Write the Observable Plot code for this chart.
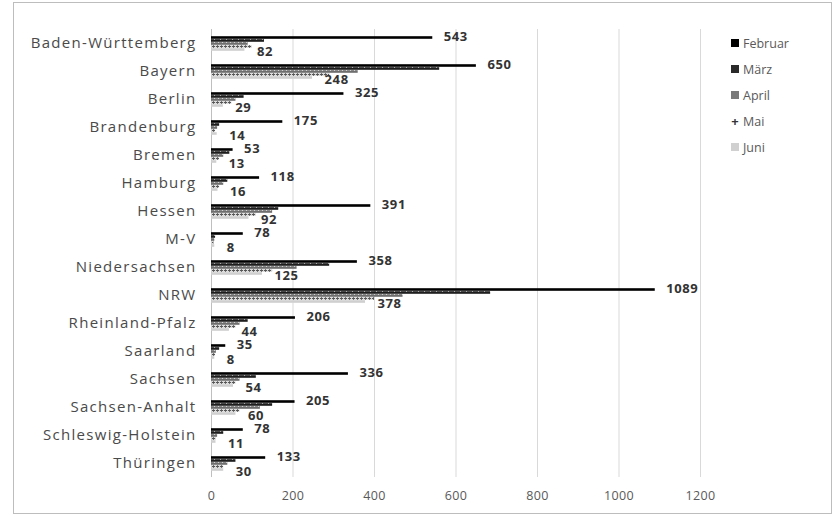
<!DOCTYPE html>
<html>
<head>
<meta charset="utf-8">
<script src="https://cdn.jsdelivr.net/npm/d3@7"></script>
<script src="https://cdn.jsdelivr.net/npm/@observablehq/plot@0.6"></script>
<style>
  html, body { margin: 0; padding: 0; background: #fff; }
  #chart { position: relative; width: 836px; height: 518px; font-family: "Open Sans", sans-serif; }
  #frame { position: absolute; left: 13px; top: 2px; width: 819px; height: 512px; border: 1px solid #bdbdbd; box-sizing: border-box; pointer-events: none; }
  #legend { position: absolute; left: 731px; top: 30px; font-size: 12.5px; color: #595959; }
  #legend .item { display: flex; align-items: center; height: 26px; }
  #legend .sw { width: 8px; height: 8px; margin-right: 4px; }
  #legend .plus { width: 8px; margin-right: 4px; font-size: 13px; line-height: 8px; color: #333; text-align: center; font-weight: bold; }
  #chart svg [aria-label^="fy-axis"] text { font-size: 15px; letter-spacing: 1.3px; fill: #4a4a4a; }
  #chart svg [aria-label^="x-axis"] text { font-size: 12.5px; letter-spacing: 0.3px; fill: #595959; }
  #chart svg .vlabel text { letter-spacing: 0.6px; }
</style>
</head>
<body>
<div id="chart"><div id="frame"></div></div>
<script>
// Bundesländer, top to bottom
const states = ["Baden-Württemberg", "Bayern", "Berlin", "Brandenburg", "Bremen", "Hamburg", "Hessen", "M-V",
  "Niedersachsen", "NRW", "Rheinland-Pfalz", "Saarland", "Sachsen", "Sachsen-Anhalt", "Schleswig-Holstein", "Thüringen"];
const months = ["Februar", "März", "April", "Mai", "Juni"];

// Monthly values per state
const februar = [543, 650, 325, 175, 53, 118, 391, 78, 358, 1089, 206, 35, 336, 205, 78, 133];
const maerz   = [130, 560, 80, 20, 45, 40, 165, 10, 290, 685, 90, 20, 110, 150, 30, 60];
const april   = [90, 360, 60, 15, 30, 30, 150, 8, 210, 470, 70, 12, 70, 120, 15, 40];
const mai     = [100, 290, 50, 10, 20, 20, 110, 6, 150, 400, 60, 10, 60, 70, 12, 30];
const juni    = [82, 248, 29, 14, 13, 16, 92, 8, 125, 378, 44, 8, 54, 60, 11, 30];

const xTicks = [0, 200, 400, 600, 800, 1000, 1200];

const series = [februar, maerz, april, mai, juni];
const rows = [];
states.forEach((s, i) => months.forEach((m, j) => rows.push({state: s, month: m, value: series[j][i]})));

const fills = {
  "Februar": "#000000",
  "März": "url(#p-maerz)",
  "April": "url(#p-april)",
  "Mai": "url(#p-mai)",
  "Juni": "#cfcfcf"
};

const byMonth = m => rows.filter(d => d.month === m);

const svg = Plot.plot({
  width: 836,
  height: 518,
  marginLeft: 211,
  marginRight: 136,
  marginTop: 24,
  marginBottom: 36,
  style: {fontFamily: "Open Sans, sans-serif", background: "transparent"},
  x: {domain: [0, 1200], ticks: xTicks, tickFormat: d => String(d), tickSize: 0, tickPadding: 14, label: null},
  y: {domain: months, axis: null, paddingInner: 0, paddingOuter: 1.5},
  fy: {domain: states, padding: 0, tickSize: 0, tickPadding: 15, label: null},
  facet: {data: rows, y: "state"},
  marks: [
    Plot.ruleX(xTicks.slice(1), {stroke: "#d9d9d9", strokeWidth: 1}),
    Plot.ruleX([0], {stroke: "#bfbfbf", strokeWidth: 1}),
    ...months.map(m => Plot.barX(byMonth(m), {x: "value", y: "month", fy: "state", fill: fills[m], insetTop: 0.2, insetBottom: 0.2})),
    Plot.text(byMonth("Februar"), {x: "value", y: "month", fy: "state", text: d => String(d.value),
      dx: 11, dy: -1, textAnchor: "start", fontSize: 13, fontWeight: "bold", fill: "#333", className: "vlabel"}),
    Plot.text(byMonth("Juni"), {x: "value", y: "month", fy: "state", text: d => String(d.value),
      dx: 12, dy: 2, textAnchor: "start", fontSize: 13, fontWeight: "bold", fill: "#333", className: "vlabel"})
  ]
});

// Fill patterns for the März, April and Mai bars
const defs = d3.select(svg).insert("defs", ":first-child");
const pm = defs.append("pattern").attr("id", "p-maerz").attr("patternUnits", "userSpaceOnUse").attr("width", 6).attr("height", 3);
pm.append("rect").attr("width", 6).attr("height", 3).attr("fill", "#1e1e1e");
pm.append("rect").attr("x", 4).attr("y", 1).attr("width", 1).attr("height", 1).attr("fill", "#9a9a9a");
const pa = defs.append("pattern").attr("id", "p-april").attr("patternUnits", "userSpaceOnUse").attr("width", 4).attr("height", 3);
pa.append("rect").attr("width", 4).attr("height", 3).attr("fill", "#6e6e6e");
pa.append("rect").attr("x", 2).attr("y", 1).attr("width", 1).attr("height", 1).attr("fill", "#c8c8c8");
const pmai = defs.append("pattern").attr("id", "p-mai").attr("patternUnits", "userSpaceOnUse").attr("width", 4).attr("height", 4);
pmai.append("rect").attr("width", 4).attr("height", 4).attr("fill", "#d6d6d6");
pmai.append("path").attr("d", "M0,1.5H3M1.5,0V3").attr("stroke", "#555").attr("stroke-width", 1);

const chart = document.getElementById("chart");
chart.insertBefore(svg, chart.firstChild);

// Legend
const legend = document.createElement("div");
legend.id = "legend";
const swatch = {"Februar": "#000", "März": "#2a2a2a", "April": "#7a7a7a", "Juni": "#d0d0d0"};
months.forEach(m => {
  const item = document.createElement("div");
  item.className = "item";
  const mark = document.createElement("span");
  if (m === "Mai") { mark.className = "plus"; mark.textContent = "+"; }
  else { mark.className = "sw"; mark.style.background = swatch[m]; }
  const label = document.createElement("span");
  label.textContent = m;
  item.appendChild(mark);
  item.appendChild(label);
  legend.appendChild(item);
});
chart.appendChild(legend);
</script>
</body>
</html>
